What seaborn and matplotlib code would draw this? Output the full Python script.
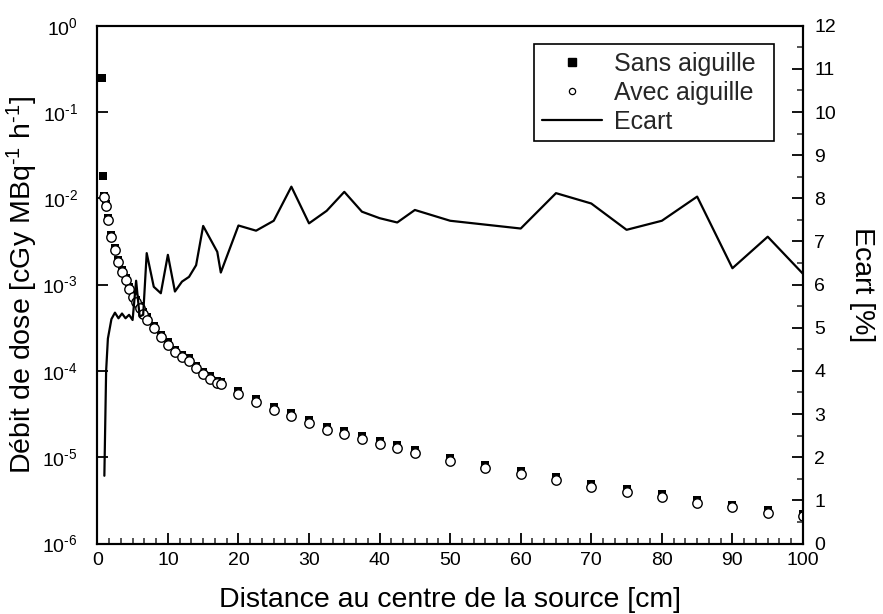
import numpy as np
import pandas as pd
import matplotlib
matplotlib.use("Agg")
import matplotlib.pyplot as plt
import seaborn as sns
from matplotlib.ticker import (MultipleLocator, LogLocator, NullLocator, FixedLocator,
                               FuncFormatter)
from matplotlib.lines import Line2D

# ---------------- data ----------------
sans_x = [0.6, 0.8, 1, 1.25, 1.5, 2, 2.5, 3, 3.5, 4, 4.5, 5, 5.5, 6, 6.5, 7, 8, 9, 10,
          11, 12, 13, 14, 15, 16, 17, 17.5, 20, 22.5, 25, 27.5, 30, 32.5, 35, 37.5,
          40, 42.5, 45, 50, 55, 60, 65, 70, 75, 80, 85, 90, 95, 100]
sans_y = [0.248, 0.0183, 1.05e-2, 8.5e-3, 5.9e-3, 3.72e-3, 2.66e-3, 1.94e-3, 1.49e-3,
          1.19e-3, 9.4e-4, 7.68e-4, 6.71e-4, 5.6e-4, 4.82e-4, 4.17e-4, 3.32e-4,
          2.6e-4, 2.14e-4, 1.77e-4, 1.53e-4, 1.40e-4, 1.14e-4, 9.83e-5, 8.66e-5,
          7.7e-5, 7.53e-5, 5.78e-5, 4.67e-5, 3.77e-5, 3.27e-5, 2.71e-5, 2.24e-5,
          2.0e-5, 1.74e-5, 1.54e-5, 1.39e-5, 1.22e-5, 9.8e-6, 8.2e-6, 6.9e-6,
          5.92e-6, 4.94e-6, 4.26e-6, 3.7e-6, 3.23e-6, 2.81e-6, 2.46e-6, 2.22e-6]

avec_x = [1, 1.25, 1.5, 2, 2.5, 3, 3.5, 4, 4.5, 5, 5.5, 6, 6.5, 7, 8, 9, 10,
          11, 12, 13, 14, 15, 16, 17, 17.5, 20, 22.5, 25, 27.5, 30, 32.5, 35, 37.5,
          40, 42.5, 45, 50, 55, 60, 65, 70, 75, 80, 85, 90, 95, 100]
avec_y = [1.03e-2, 8.14e-3, 5.61e-3, 3.53e-3, 2.52e-3, 1.84e-3, 1.41e-3, 1.13e-3,
          8.9e-4, 7.28e-4, 6.3e-4, 5.31e-4, 4.57e-4, 3.89e-4, 3.12e-4, 2.45e-4,
          2.0e-4, 1.67e-4, 1.44e-4, 1.31e-4, 1.07e-4, 9.1e-5, 8.06e-5, 7.18e-5,
          7.05e-5, 5.35e-5, 4.33e-5, 3.49e-5, 3.0e-5, 2.51e-5, 2.07e-5, 1.84e-5,
          1.61e-5, 1.42e-5, 1.29e-5, 1.13e-5, 9.1e-6, 7.6e-6, 6.4e-6, 5.44e-6,
          4.55e-6, 3.95e-6, 3.43e-6, 2.97e-6, 2.63e-6, 2.28e-6, 2.08e-6]

ecart_x = [1, 1.25, 1.5, 2, 2.5, 3, 3.5, 4, 4.5, 5, 5.5, 6, 6.5, 7, 8, 9, 10,
           11, 12, 13, 14, 15, 16, 17, 17.5, 20, 22.5, 25, 27.5, 30, 32.5, 35, 37.5,
           40, 42.5, 45, 50, 55, 60, 65, 70, 75, 80, 85, 90, 95, 100]
ecart_y = [1.57, 4.0, 4.75, 5.2, 5.35, 5.22, 5.33, 5.22, 5.3, 5.18, 6.09, 5.26, 5.3,
           6.73, 5.95, 5.8, 6.69, 5.84, 6.07, 6.18, 6.45, 7.36, 7.06, 6.76, 6.28,
           7.37, 7.25, 7.48, 8.27, 7.42, 7.71, 8.15, 7.69, 7.54, 7.44, 7.73, 7.48,
           7.39, 7.30, 8.12, 7.88, 7.27, 7.48, 8.04, 6.38, 7.11, 6.25]

x_ticks = [0, 10, 20, 30, 40, 50, 60, 70, 80, 90, 100]
right_ticks = list(range(0, 13))
legend_labels = ["Sans aiguille", "Avec aiguille", "Ecart"]

df_sans = pd.DataFrame({"x": sans_x, "y": sans_y})
df_avec = pd.DataFrame({"x": avec_x, "y": avec_y})
df_ecart = pd.DataFrame({"x": ecart_x, "y": ecart_y})

# ---------------- style ----------------
sns.set_theme(style="ticks")
plt.rcParams["font.family"] = ["Liberation Sans", "DejaVu Sans"]
plt.rcParams["mathtext.fontset"] = "custom"
plt.rcParams["mathtext.rm"] = "Liberation Sans"
plt.rcParams["mathtext.it"] = "Liberation Sans:italic"
plt.rcParams["mathtext.default"] = "regular"

fig = plt.figure(figsize=(8.83, 6.14), dpi=100)
ax = fig.add_axes([0.1102, 0.1148, 0.7992, 0.8433])

sns.scatterplot(data=df_sans, x="x", y="y", marker="s", s=26, color="black",
                edgecolor="black", linewidth=0, ax=ax, zorder=3, clip_on=True)
sns.scatterplot(data=df_avec, x="x", y="y", marker="o", s=46, color="white",
                edgecolor="black", linewidth=1.0, ax=ax, zorder=4, clip_on=True)

ax.set_yscale("log")
ax.set_ylim(1e-6, 1)
ax.set_xlim(0, 100)
ax.xaxis.set_major_locator(FixedLocator(x_ticks))
ax.xaxis.set_minor_locator(MultipleLocator(10 / 6))
ax.yaxis.set_major_locator(LogLocator(base=10, numticks=10))
ax.yaxis.set_minor_locator(NullLocator())


def log_fmt(v, pos):
    e = int(round(np.log10(v)))
    if e < 0:
        return r"$10^{\text{-}%d}$" % (-e)
    return r"$10^{%d}$" % e


ax.yaxis.set_major_formatter(FuncFormatter(log_fmt))

ax2 = ax.twinx()
sns.lineplot(data=df_ecart, x="x", y="y", color="black", linewidth=1.6, ax=ax2,
             sort=False, estimator=None)
ax2.set_ylim(0, 12)
ax2.yaxis.set_major_locator(FixedLocator(right_ticks))
ax2.yaxis.set_minor_locator(MultipleLocator(0.5))
ax2.set_xlim(0, 100)
ax2.set_xlabel("")

for a in (ax, ax2):
    for sp in a.spines.values():
        sp.set_visible(True)
        sp.set_color("black")
        sp.set_linewidth(1.5)

ax.tick_params(axis="both", which="major", direction="in", length=8, width=1.3,
               labelsize=14, colors="black", top=False, right=False)
ax.tick_params(axis="x", which="minor", direction="in", length=4.5, width=1.1,
               top=False)
ax.tick_params(axis="x", which="major", pad=6)
ax.tick_params(axis="y", which="major", pad=14)
ax2.tick_params(axis="y", which="major", direction="in", length=8, width=1.3,
                labelsize=14, colors="black", pad=8)
ax2.tick_params(axis="y", which="minor", direction="in", length=4.5, width=1.1)

ax.set_xlabel("Distance au centre de la source [cm]", fontsize=20.5, color="black",
              labelpad=13)
ax.set_ylabel(r"Débit de dose [cGy MBq$^{\text{-}1}$ h$^{\text{-}1}$]",
              fontsize=20.5, color="black")
ax.yaxis.set_label_coords(-0.081, 0.5)
ax2.set_ylabel("Ecart [%]", fontsize=20.5, color="black", rotation=270,
               labelpad=28)

handles = [
    Line2D([], [], marker="s", linestyle="none", color="black", markersize=5.5),
    Line2D([], [], marker="o", linestyle="none", markerfacecolor="white",
           markeredgecolor="black", markersize=4.5, markeredgewidth=0.9),
    Line2D([], [], color="black", linewidth=1.6),
]
leg = ax2.legend(handles, legend_labels,
                 loc="upper left", bbox_to_anchor=(0.619, 0.7656, 0.340, 0.199),
                 bbox_transform=ax2.transAxes, mode="expand", fontsize=18,
                 frameon=True, fancybox=False, framealpha=1, edgecolor="black",
                 handlelength=2.4, handletextpad=0.5, labelspacing=0.2,
                 borderpad=0.3, borderaxespad=0)
leg.get_frame().set_linewidth(1.2)

fig.savefig("out.png", dpi=100)
